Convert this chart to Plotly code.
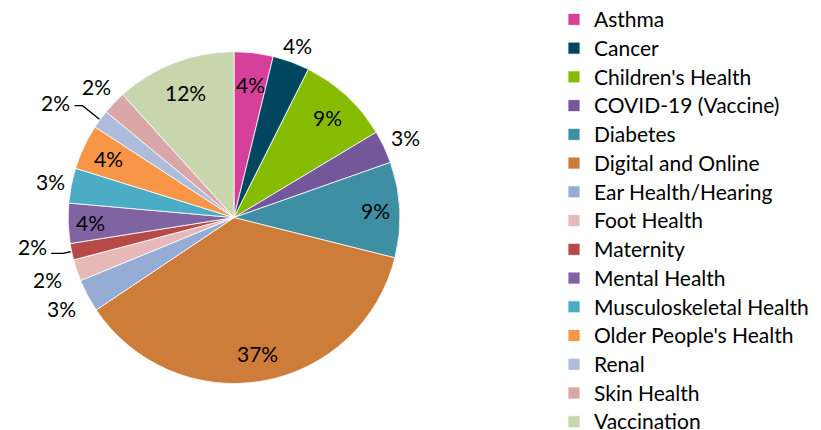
import math
import plotly.graph_objects as go

# ---- data ----
categories = ["Asthma", "Cancer", "Children's Health", "COVID-19 (Vaccine)", "Diabetes",
              "Digital and Online", "Ear Health/Hearing", "Foot Health", "Maternity",
              "Mental Health", "Musculoskeletal Health", "Older People's Health", "Renal",
              "Skin Health", "Vaccination"]
shares = [3.8, 3.6, 9.0, 3.2, 9.3, 36.7, 3.2, 2.1, 1.6, 3.9, 3.4, 4.4, 1.8, 2.3, 11.7]
colors = ["#D6409A", "#004660", "#86BC00", "#74579A", "#3E8FA3", "#CD7C3A", "#95ACD4",
          "#E6B9B8", "#B54A48", "#8064A2", "#4BACC6", "#F79646", "#ADBCDA", "#D9A7A7",
          "#C7D6AD"]

# ---- layout constants ----
W, H = 821, 460          # figure a bit taller than the 430 px window so the legend fits
CX, CY, R = 234, 216, 167
FONT = "Lato, 'Open Sans', sans-serif"
FS = 21

# label placement: (kind, radius in px from centre, angle shift deg)
label_place = {
    "Asthma": ("in", 0.81 * R, 0), "Cancer": ("out", R + 17, 0),
    "Children's Health": ("in", 0.82 * R, 0), "COVID-19 (Vaccine)": ("out", R + 23, 0),
    "Diabetes": ("in", 0.85 * R, 0), "Digital and Online": ("in", 0.83 * R, 0),
    "Ear Health/Hearing": ("out", R + 28, 0), "Foot Health": ("out", R + 30, 0),
    "Maternity": ("lead", R + 37, 3.7), "Mental Health": ("in", 0.86 * R, 0),
    "Musculoskeletal Health": ("out", R + 20, 0), "Older People's Health": ("in", 0.83 * R, 0),
    "Renal": ("lead", R + 46, -3.3), "Skin Health": ("out", R + 24, 0),
    "Vaccination": ("in", 0.81 * R, 0),
}


def to_paper(px, py):
    return px / W, 1 - py / H


fig = go.Figure(go.Pie(
    labels=[f"<span style='font-size:{FS}px'>{c}</span>" for c in categories],
    values=shares, sort=False, direction="clockwise", rotation=0,
    textinfo="none", hoverinfo="label+percent",
    marker=dict(colors=colors, line=dict(color="white", width=0.8)),
    domain=dict(x=[(CX - R) / W, (CX + R) / W], y=[1 - (CY + R) / H, 1 - (CY - R) / H]),
))

total = sum(shares)
annotations, shapes = [], []
cum = 0.0
for cat, v in zip(categories, shares):
    mid = (cum + v / 2) / total * 360
    cum += v
    kind, rad, shift = label_place[cat]
    ang = math.radians(mid + shift)
    lx, ly = CX + rad * math.sin(ang), CY - rad * math.cos(ang)
    pxx, pyy = to_paper(lx, ly)
    annotations.append(dict(x=pxx, y=pyy, xref="paper", yref="paper", showarrow=False,
                            xanchor="center", yanchor="middle",
                            text=f"{round(v / total * 100):.0f}%",
                            font=dict(family=FONT, size=FS, color="#000000")))
    if kind == "lead":
        a = math.radians(mid)
        ex, ey = CX + R * math.sin(a), CY - R * math.cos(a)
        sx, sy = lx + 19, ly + (7 if cat == "Maternity" else 3.5)
        bx = sx + (12 if cat == "Maternity" else 8)
        p0, p1, p2 = to_paper(sx, sy), to_paper(bx, sy), to_paper(ex, ey)
        shapes.append(dict(type="path", xref="paper", yref="paper",
                           path=f"M {p0[0]},{p0[1]} L {p1[0]},{p1[1]} L {p2[0]},{p2[1]}",
                           line=dict(color="#000000", width=1.3)))

fig.update_layout(
    width=W, height=H, margin=dict(l=0, r=0, t=0, b=0),
    paper_bgcolor="white", plot_bgcolor="white",
    font=dict(family=FONT, color="#000000"),
    showlegend=True,
    legend=dict(x=554 / W, xanchor="left", y=1, yanchor="top",
                font=dict(family=FONT, size=19.8, color="#000000"),
                bgcolor="rgba(0,0,0,0)", borderwidth=0, traceorder="normal"),
    annotations=annotations, shapes=shapes,
)
try:
    fig.update_layout(legend_maxheight=H, legend_y=1 + 3 / H)
except (ValueError, Exception):
    pass

fig.write_html("out.html", config={"displayModeBar": False},
               post_script="document.body.style.margin='0';document.body.style.overflow='hidden';")
